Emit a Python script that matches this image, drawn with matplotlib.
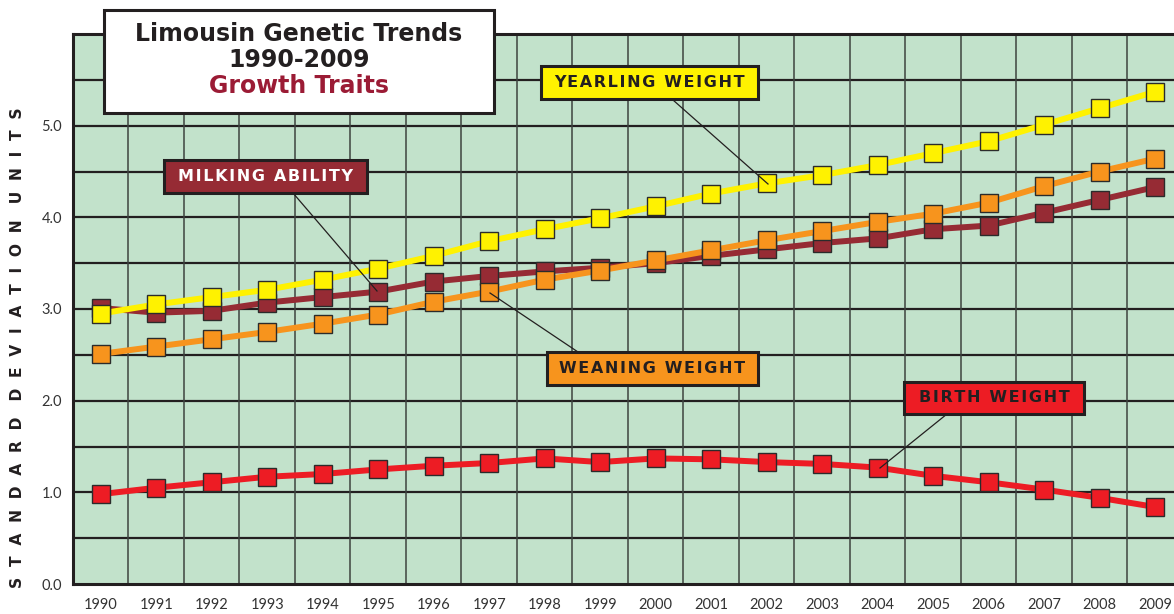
import matplotlib.pyplot as plt
from matplotlib.patches import Rectangle

years = list(range(1990, 2010))
yearling = [2.95, 3.05, 3.13, 3.21, 3.32, 3.44, 3.58, 3.74, 3.87, 3.99,
            4.12, 4.26, 4.37, 4.46, 4.57, 4.70, 4.83, 5.01, 5.19, 5.37]
weaning = [2.51, 2.59, 2.67, 2.75, 2.84, 2.94, 3.08, 3.19, 3.32, 3.42,
           3.53, 3.64, 3.75, 3.85, 3.95, 4.04, 4.16, 4.34, 4.50, 4.64]
milking = [3.01, 2.96, 2.98, 3.07, 3.13, 3.19, 3.30, 3.36, 3.41, 3.45,
           3.50, 3.58, 3.65, 3.72, 3.77, 3.87, 3.91, 4.05, 4.19, 4.33]
birth = [0.98, 1.05, 1.11, 1.17, 1.20, 1.25, 1.29, 1.32, 1.37, 1.33,
         1.37, 1.36, 1.33, 1.31, 1.27, 1.18, 1.11, 1.03, 0.94, 0.84]
yticks = [0.0, 1.0, 2.0, 3.0, 4.0, 5.0]

BG = "#c2e2cb"
DARK = "#231f20"
YELLOW = "#fff200"
ORANGE = "#f7941d"
MAROON = "#962b34"
RED = "#ed1c24"


def spaced(s, sep="\u200a"):
    return sep.join(s)


fig = plt.figure(figsize=(11.74, 6.14), dpi=100)
ax = fig.add_axes([73 / 1174, 1 - 584 / 614, 1 - 73 / 1174, (584 - 34) / 614])
ax.set_facecolor(BG)
ax.set_xlim(1989.5, 2009.34)
ax.set_ylim(0, 6)

for y in [0.5 * i for i in range(1, 12)]:
    ax.axhline(y, color=DARK, lw=1.6, zorder=1)
for x in range(1990, 2010):
    ax.axvline(x + 0.5, color="#3d433f", lw=1.1, zorder=1)

series = [(milking, MAROON), (weaning, ORANGE), (yearling, YELLOW), (birth, RED)]
for vals, col in series:
    ax.plot(years, vals, color=col, lw=4.3, zorder=3, solid_capstyle="butt")
    ax.plot(years, vals, ls="none", marker="s", ms=12.8, mfc=col,
            mec="#2b2b2b", mew=1.0, zorder=4)

for side in ["left", "top", "bottom"]:
    ax.spines[side].set_color(DARK)
    ax.spines[side].set_linewidth(2.2)
ax.spines["right"].set_visible(False)

ax.set_yticks(yticks)
ax.set_yticklabels([f"{v:.1f}" for v in yticks], fontfamily="Lato",
                   fontsize=10.5, color="#333333")
ax.set_xticks(years)
ax.set_xticklabels([str(y) for y in years], fontfamily="Lato",
                   fontsize=10.5, color="#333333")
ax.tick_params(length=0)
ax.tick_params(axis="y", pad=8)
ax.tick_params(axis="x", pad=10)

ylab = "   ".join("  ".join(w) for w in ["STANDARD", "DEVIATION", "UNITS"])
fig.text(18 / 1174, 1 - 348 / 614, ylab, rotation=90, ha="center",
         va="center", fontsize=11.2, fontweight="bold", color=DARK)


def px_box(x0, y0, x1, y1, fc):
    r = Rectangle((x0 / 1174, 1 - y1 / 614), (x1 - x0) / 1174, (y1 - y0) / 614,
                  transform=fig.transFigure, facecolor=fc, edgecolor=DARK,
                  lw=2.2, zorder=10)
    fig.add_artist(r)


def leader(x0, y0, x1, y1):
    fig.add_artist(plt.Line2D([x0 / 1174, x1 / 1174], [1 - y0 / 614, 1 - y1 / 614],
                              transform=fig.transFigure, color=DARK, lw=0.9, zorder=9))


def label(x0, y0, x1, y1, fc, text, tc):
    px_box(x0, y0, x1, y1, fc)
    fig.text((x0 + x1) / 2 / 1174, 1 - (y0 + y1) / 2 / 614, spaced(text),
             ha="center", va="center", fontsize=11.5, fontweight="bold",
             color=tc, zorder=11)


# title box
px_box(104, 10, 494, 113, "white")
fig.text(299 / 1174, 1 - 34 / 614, "Limousin Genetic Trends", ha="center",
         va="center", fontsize=17, fontweight="bold", color=DARK, zorder=11)
fig.text(299 / 1174, 1 - 60 / 614, "1990-2009", ha="center", va="center",
         fontsize=17, fontweight="bold", color=DARK, zorder=11)
fig.text(299 / 1174, 1 - 86 / 614, "Growth Traits", ha="center", va="center",
         fontsize=17, fontweight="bold", color="#9b1b35", zorder=11)

leader(673, 100, 768, 184)
label(541, 66, 758, 99, YELLOW, "YEARLING WEIGHT", DARK)
leader(293, 193, 377, 291)
label(164, 160, 367, 193, MAROON, "MILKING ABILITY", "white")
leader(578, 352, 490, 293)
label(547, 352, 758, 385, ORANGE, "WEANING WEIGHT", DARK)
leader(947, 414, 880, 468)
label(904, 382, 1084, 414, RED, "BIRTH WEIGHT", DARK)

fig.savefig("out.png", dpi=100)
